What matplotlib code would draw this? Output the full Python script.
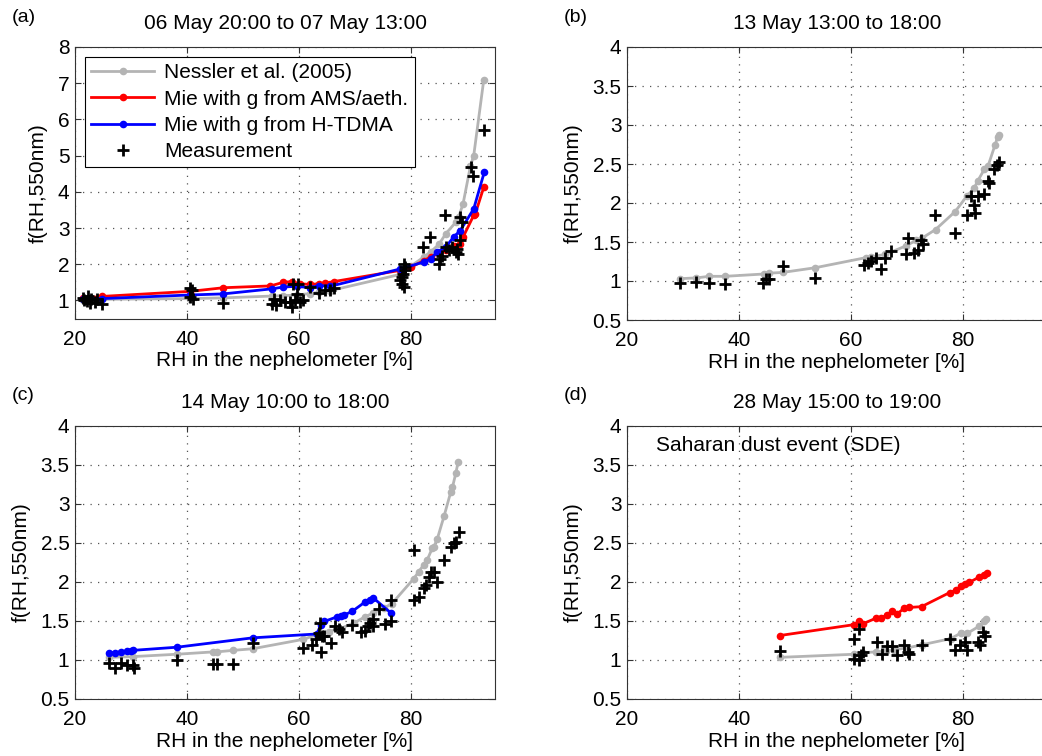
import matplotlib
matplotlib.use("Agg")
import matplotlib.pyplot as plt
import numpy as np

plt.rcParams['font.family'] = ['Liberation Sans', 'DejaVu Sans']

GRAY = '#b4b4b4'
FS = 15

# ---- panel (a): 06 May 20:00 to 07 May 13:00
a_nes_x = [21.5, 22.5, 23.5, 24.8, 40.6, 46.5, 55.2, 57.2, 59.6, 62.0, 63.5, 65.6,
           78.1, 80.0, 82.3, 83.5, 85.0, 86.2, 88.0, 88.5, 89.3, 90.6, 91.2, 93.0]
a_nes_y = [1.02, 1.02, 1.02, 1.03, 1.05, 1.07, 1.12, 1.13, 1.15, 1.19, 1.22, 1.27,
           1.72, 1.95, 2.2, 2.34, 2.55, 2.84, 3.16, 3.3, 3.67, 4.7, 5.0, 7.1]
a_ams_x = [21.5, 24.8, 40.6, 46.5, 54.9, 57.2, 58.7, 60.2, 62.0, 63.5, 64.7, 66.2,
           78.1, 80.0, 82.3, 83.5, 85.0, 86.2, 87.6, 88.8, 89.3, 91.2, 91.5, 93.0]
a_ams_y = [1.06, 1.11, 1.25, 1.35, 1.40, 1.50, 1.52, 1.46, 1.44, 1.46, 1.48, 1.52,
           1.83, 1.92, 2.1, 2.2, 2.3, 2.4, 2.5, 2.57, 2.75, 3.35, 3.4, 4.13]
a_htd_x = [21.5, 24.8, 40.6, 46.5, 55.2, 57.2, 59.6, 62.0, 63.5, 65.6,
           78.1, 82.3, 83.5, 84.7, 86.2, 87.6, 88.8, 91.2, 93.1]
a_htd_y = [1.03, 1.05, 1.15, 1.18, 1.32, 1.37, 1.39, 1.35, 1.41, 1.39,
           1.87, 2.06, 2.15, 2.34, 2.47, 2.75, 2.93, 3.53, 4.55]
a_meas_x = [21.5, 22.3, 22.9, 22.1, 23.9, 21.6, 22.7, 23.6, 24.8, 40.6, 40.9, 40.6, 41.0,
            46.4, 55.2, 55.5, 55.9, 56.6, 57.5, 58.4, 58.7, 59.0, 59.3, 59.6, 59.9, 60.2,
            60.8, 62.0, 63.5, 64.7, 65.6, 66.2, 78.4, 78.4, 78.7, 78.6, 78.9, 79.0, 78.1,
            78.8, 82.2, 83.4, 85.0, 85.2, 85.6, 86.0, 86.2, 86.8, 87.4, 88.0, 88.2, 88.4,
            88.7, 88.8, 89.1, 90.7, 91.1, 93.0]
a_meas_y = [1.08, 1.12, 1.03, 0.97, 1.03, 1.0, 0.93, 0.96, 0.91, 1.35, 1.28, 1.09, 1.05,
            0.93, 0.91, 1.05, 0.86, 1.0, 0.95, 0.95, 0.83, 1.46, 1.0, 1.18, 1.46, 0.95,
            1.0, 1.37, 1.2, 1.29, 1.28, 1.35, 1.64, 1.46, 1.37, 1.74, 1.92, 1.83, 1.55,
            2.0, 2.47, 2.75, 2.01, 2.15, 2.24, 3.35, 2.47, 2.38, 2.47, 2.34, 2.43, 2.29,
            2.66, 3.3, 3.16, 4.68, 4.45, 5.7]

# ---- panel (b): 13 May 13:00 to 18:00
b_nes_x = [29.5, 32.4, 34.7, 37.5, 44.5, 45.3, 47.8, 53.6, 62.7, 63.5, 66.1, 69.8,
           71.6, 72.7, 75.1, 78.6, 80.7, 82.0, 82.6, 83.8, 84.5, 85.7, 86.2, 86.4]
b_nes_y = [1.03, 1.04, 1.06, 1.06, 1.09, 1.1, 1.11, 1.17, 1.30, 1.31, 1.34, 1.45,
           1.52, 1.55, 1.66, 1.89, 2.09, 2.19, 2.28, 2.43, 2.48, 2.74, 2.85, 2.87]
b_meas_x = [29.5, 32.4, 34.7, 37.5, 44.2, 44.8, 45.3, 47.9, 53.6, 62.4, 63.0, 63.6,
            64.5, 65.4, 66.1, 67.2, 69.8, 70.1, 71.3, 71.9, 72.5, 72.9, 75.0, 78.5,
            80.7, 81.4, 82.0, 82.1, 82.6, 83.8, 84.4, 84.7, 85.6, 86.1, 86.4]
b_meas_y = [0.98, 0.99, 0.97, 0.96, 0.98, 1.02, 1.03, 1.19, 1.04, 1.21, 1.23, 1.26,
            1.29, 1.15, 1.29, 1.38, 1.34, 1.55, 1.36, 1.4, 1.52, 1.47, 1.84, 1.61,
            1.84, 2.09, 1.98, 1.87, 2.09, 2.11, 2.28, 2.26, 2.43, 2.49, 2.53]

# ---- panel (c): 14 May 10:00 to 18:00
c_htd_x = [26.1, 27.2, 28.2, 29.2, 30.0, 30.4, 38.2, 51.7, 63.2, 63.9, 64.5, 66.8,
           67.5, 68.0, 69.5, 71.8, 72.6, 73.3, 76.4]
c_htd_y = [1.09, 1.09, 1.1, 1.11, 1.11, 1.12, 1.16, 1.28, 1.33, 1.45, 1.49, 1.55,
           1.56, 1.57, 1.62, 1.74, 1.77, 1.79, 1.60]
c_nes_x = [26.1, 30.4, 38.2, 44.7, 45.3, 48.3, 51.7, 60.7, 63.2, 65.3, 67.4, 69.8,
           71.8, 73.3, 75.1, 76.6, 80.5, 81.4, 82.3, 82.9, 83.8, 84.1, 84.7, 85.9,
           87.1, 87.4, 88.0, 88.4]
c_nes_y = [1.03, 1.04, 1.07, 1.1, 1.1, 1.12, 1.14, 1.26, 1.32, 1.36, 1.4, 1.47,
           1.55, 1.6, 1.66, 1.72, 2.04, 2.13, 2.22, 2.28, 2.43, 2.45, 2.55, 2.84,
           3.15, 3.21, 3.39, 3.53]
c_meas_x = [26.1, 27.2, 28.2, 29.2, 30.3, 30.6, 38.2, 44.7, 45.3, 48.3, 51.7, 60.7,
            62.3, 63.1, 63.5, 63.9, 63.7, 64.1, 64.5, 65.8, 66.5, 67.1, 67.7, 69.5,
            71.1, 71.8, 72.4, 72.7, 73.3, 73.2, 74.2, 75.4, 76.4, 76.4, 80.5, 80.5,
            81.4, 82.3, 82.6, 83.2, 83.5, 84.1, 84.7, 85.9, 87.1, 87.7, 88.0, 88.6]
c_meas_y = [0.96, 0.9, 0.96, 0.93, 0.93, 0.9, 0.99, 0.94, 0.94, 0.94, 1.21, 1.15,
            1.19, 1.26, 1.34, 1.1, 1.47, 1.3, 1.3, 1.21, 1.43, 1.4, 1.36, 1.45,
            1.35, 1.37, 1.43, 1.47, 1.52, 1.43, 1.65, 1.46, 1.5, 1.77, 2.41, 1.76,
            1.81, 1.92, 1.96, 2.06, 2.13, 2.13, 2.0, 2.28, 2.45, 2.49, 2.51, 2.64]

# ---- panel (d): 28 May 15:00 to 19:00 (Saharan dust)
d_ams_x = [47.3, 60.6, 61.5, 62.1, 64.4, 65.3, 66.5, 67.3, 68.3, 69.5, 70.4, 72.6,
           77.6, 78.7, 79.6, 80.3, 81.1, 82.9, 83.8, 84.2]
d_ams_y = [1.31, 1.45, 1.49, 1.46, 1.53, 1.54, 1.57, 1.62, 1.59, 1.66, 1.67, 1.68,
           1.86, 1.89, 1.94, 1.97, 1.99, 2.06, 2.09, 2.11]
d_nes_x = [47.3, 60.6, 62.1, 64.4, 66.2, 67.7, 70.0, 72.6, 77.8, 79.6, 80.8, 82.9,
           83.8, 84.1]
d_nes_y = [1.03, 1.07, 1.09, 1.1, 1.11, 1.13, 1.15, 1.19, 1.27, 1.34, 1.34, 1.43,
           1.49, 1.52]
d_meas_x = [47.3, 60.6, 60.6, 61.5, 61.5, 61.8, 62.1, 64.6, 65.5, 66.5, 67.3, 68.2,
            69.5, 70.1, 70.4, 72.6, 77.6, 78.5, 79.5, 80.4, 80.7, 82.7, 83.0, 83.6, 83.9]
d_meas_y = [1.11, 1.26, 1.01, 1.39, 0.99, 1.06, 1.1, 1.23, 1.07, 1.17, 1.17, 1.06,
            1.19, 1.1, 1.07, 1.19, 1.26, 1.13, 1.19, 1.23, 1.13, 1.23, 1.19, 1.36, 1.31]

titles = ['06 May 20:00 to 07 May 13:00', '13 May 13:00 to 18:00',
          '14 May 10:00 to 18:00', '28 May 15:00 to 19:00']
letters = ['(a)', '(b)', '(c)', '(d)']

W, H = 1042, 756
fig = plt.figure(figsize=(W / 100, H / 100), dpi=100)

# pixel boxes (left, top, right, bottom)
boxes = [(75, 47, 495, 318.5), (627, 47, 1047, 320),
         (75, 425.7, 495, 698.7), (627, 425.7, 1047, 698.7)]
axs = []
for l, t, r, b in boxes:
    axs.append(fig.add_axes([l / W, 1 - b / H, (r - l) / W, (b - t) / H]))

line_kw = dict(lw=2, marker='o', ms=5.5, mew=0)
meas_kw = dict(ls='none', marker='+', ms=8, mew=2, color='k')

ax = axs[0]
ax.plot(a_nes_x, a_nes_y, color=GRAY, label='Nessler et al. (2005)', **line_kw)
ax.plot(a_ams_x, a_ams_y, color='#ff0000', label='Mie with g from AMS/aeth.', **line_kw)
ax.plot(a_htd_x, a_htd_y, color='#0000ff', label='Mie with g from H-TDMA', **line_kw)
ax.plot(a_meas_x, a_meas_y, label='Measurement', **meas_kw)
leg = ax.legend(loc='upper left', bbox_to_anchor=(0.024, 0.963), fontsize=FS,
                frameon=True, fancybox=False, edgecolor='k', framealpha=1,
                numpoints=1, handlelength=3.0, handletextpad=0.5,
                borderpad=0.3, labelspacing=0.35, borderaxespad=0)
leg.get_frame().set_linewidth(0.8)

ax = axs[1]
ax.plot(b_nes_x, b_nes_y, color=GRAY, **line_kw)
ax.plot(b_meas_x, b_meas_y, **meas_kw)

ax = axs[2]
ax.plot(c_nes_x, c_nes_y, color=GRAY, **line_kw)
ax.plot(c_htd_x, c_htd_y, color='#0000ff', **line_kw)
ax.plot(c_meas_x, c_meas_y, **meas_kw)

ax = axs[3]
ax.plot(d_nes_x, d_nes_y, color=GRAY, **line_kw)
ax.plot(d_ams_x, d_ams_y, color='#ff0000', **line_kw)
ax.plot(d_meas_x, d_meas_y, **meas_kw)
ax.text(25.1, 3.74, 'Saharan dust event (SDE)', fontsize=FS, va='center', ha='left')

for i, ax in enumerate(axs):
    ax.set_xlim(20, 95)
    ax.set_xticks([20, 40, 60, 80])
    if i == 0:
        ax.set_ylim(0.5, 8)
        ax.set_yticks(range(1, 9))
    else:
        ax.set_ylim(0.5, 4)
        ax.set_yticks(np.arange(0.5, 4.01, 0.5))
        ax.set_yticklabels(['0.5', '1', '1.5', '2', '2.5', '3', '3.5', '4'])
    ax.grid(True, color='#555555', ls=(0, (1, 5)), lw=0.9)
    ax.tick_params(direction='in', top=True, right=True, length=4,
                   labelsize=FS, color='#333333')
    ax.tick_params(axis='x', pad=8)
    ax.tick_params(axis='y', pad=4)
    for s in ax.spines.values():
        s.set_color('#333333')
        s.set_linewidth(0.8)
    ax.set_xlabel('RH in the nephelometer [%]', fontsize=FS, labelpad=2)
    ax.set_ylabel('f(RH,550nm)', fontsize=FS, labelpad=7)
    ax.set_title(titles[i], fontsize=FS, pad=13)

# panel letters
for (l, t, r, b), lab in zip(boxes, letters):
    fig.text((l - 63) / W, 1 - (t - 30) / H, lab, fontsize=14, ha='left', va='center')

fig.savefig('out.png', dpi=100)
